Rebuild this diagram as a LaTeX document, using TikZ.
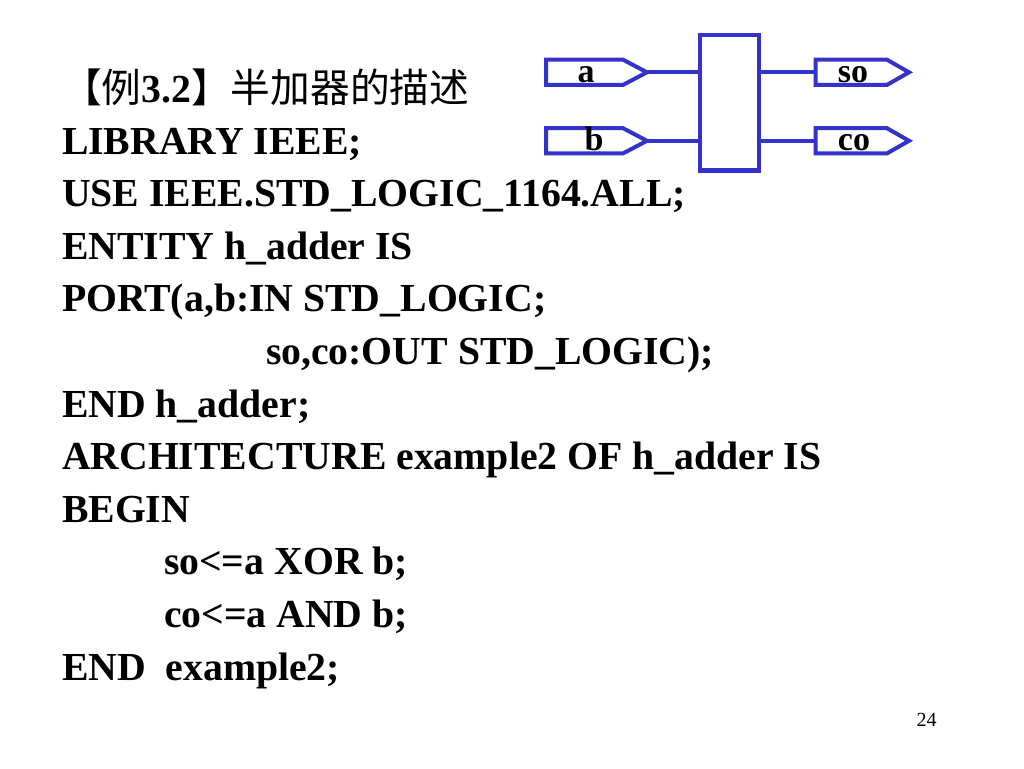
\documentclass[tikz,border=0pt]{standalone}
\usepackage{fontspec}
\setmainfont{Liberation Serif}
\newfontfamily\cjkfont{Noto Sans CJK SC}
\definecolor{wireblue}{RGB}{51,51,204}
\tikzset{
  x=0.75pt,y=-0.75pt,
  codeline/.style={anchor=base west,inner sep=0pt,outer sep=0pt,font=\fontsize{29.8}{30}\selectfont\bfseries},
  taglabel/.style={anchor=base,inner sep=0pt,outer sep=0pt,font=\fontsize{25.5}{26}\selectfont\bfseries},
  tagshape/.style={draw=wireblue,line width=3pt,miter limit=10},
  wire/.style={draw=wireblue,line width=2.8pt},
  blockbox/.style={draw=wireblue,line width=3.5pt,minimum width=44.25pt,minimum height=101.5pt,inner sep=0pt,outer sep=0pt}
}
\newcommand{\porttag}[4]{% left x, shoulder x, tip x, mid y
  \draw[tagshape] (#1,#4-12.6) -- (#2,#4-12.6) -- (#3,#4) -- (#2,#4+12.6) -- (#1,#4+12.6) -- cycle;
}
\newcommand{\cjktext}[1]{{\cjkfont\mdseries #1}}
\begin{document}
\begin{tikzpicture}
\useasboundingbox (0,0) rectangle (1024,768);
% block and ports
\node[blockbox] (ha) at (729.5,102.5) {};
\porttag{546}{623}{647}{72.3}
\porttag{546}{623}{647}{140.8}
\porttag{815.5}{887}{909}{72.3}
\porttag{815.5}{887}{909}{140.8}
\coordinate (atip) at (647,72.3);
\coordinate (btip) at (647,140.8);
\coordinate (soin) at (815.5,72.3);
\coordinate (coin) at (815.5,140.8);
\draw[wire] (atip) -- (ha.west |- atip);
\draw[wire] (btip) -- (ha.west |- btip);
\draw[wire] (ha.east |- soin) -- (soin);
\draw[wire] (ha.east |- coin) -- (coin);
\node[taglabel] (la) at (586,82) {a};
\node[taglabel] (lb) at (594,150.5) {b};
\node[taglabel] (lso) at (853,82) {so};
\node[taglabel] (lco) at (854,150.5) {co};
% code
\node[codeline] (t0) at (62,102) {\cjktext{【例}3.2\cjktext{】半加器的描述}};
\node[codeline] (t1) at (62,154) {LIBRARY IEEE;};
\node[codeline] (t2) at (62,206.6) {USE IEEE.STD\_LOGIC\_1164.ALL;};
\node[codeline] (t3) at (62,259.2) {ENTITY h\_adder IS};
\node[codeline] (t4) at (62,311.8) {PORT(a,b:IN STD\_LOGIC;};
\node[codeline] (t5) at (266,364.4) {so,co:OUT STD\_LOGIC);};
\node[codeline] (t6) at (62,417) {END h\_adder;};
\node[codeline] (t7) at (62,469.6) {ARCHITECTURE example2 OF h\_adder IS};
\node[codeline] (t8) at (62,522.2) {BEGIN};
\node[codeline] (t9) at (164,574.8) {so<=a XOR b;};
\node[codeline] (t10) at (164,627.4) {co<=a AND b;};
\node[codeline] (t11) at (62,680) {END\ \ example2;};
\node[anchor=base,inner sep=0pt,font=\fontsize{15}{15}\selectfont] (pg) at (926.5,726) {24};
\end{tikzpicture}
\end{document}
